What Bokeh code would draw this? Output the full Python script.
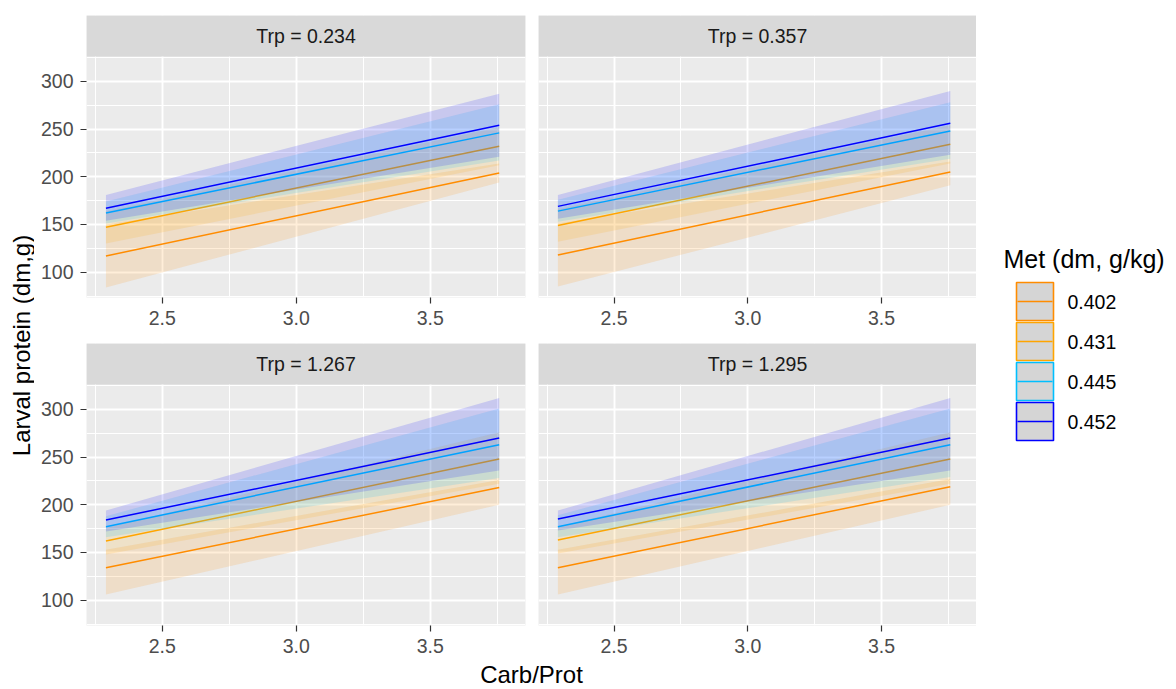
import numpy as np
from bokeh.plotting import figure
from bokeh.models import (FixedTicker, LinearAxis, Grid, BoxAnnotation, Label,
                          PrintfTickFormatter, Range1d)
from bokeh.layouts import row, column
from bokeh.embed import file_html
from bokeh.resources import INLINE
from bokeh.core.properties import value

# ---- data -----------------------------------------------------------------
trp_levels = ["0.234", "0.357", "1.267", "1.295"]
met_levels = ["0.402", "0.431", "0.445", "0.452"]
met_colors = ["#FF8C00", "#FFA500", "#00BFFF", "#0000FF"]

# Carb/Prot at the two ends of each fitted line
carb_prot = [2.29, 3.757]

# fitted larval protein (dm, g) per Met level: [at low Carb/Prot, at high Carb/Prot]
fit_trp_0234 = [[117, 204], [147, 232], [162, 246], [167, 254]]
lo_trp_0234 = [[84, 194], [130, 212], [151, 217], [154, 221]]
hi_trp_0234 = [[150, 214], [164, 252], [174, 276], [181, 287]]

fit_trp_0357 = [[118, 205], [149, 234], [164, 248], [169, 256]]
lo_trp_0357 = [[85, 191], [132, 214], [153, 219], [156, 223]]
hi_trp_0357 = [[151, 216], [166, 254], [176, 278], [181, 290]]

fit_trp_1267 = [[134, 218], [162, 248], [177, 263], [184, 270]]
lo_trp_1267 = [[106, 200], [148, 222], [166, 228], [172, 236]]
hi_trp_1267 = [[153, 226], [176, 276], [188, 301], [194, 312]]

fit_trp_1295 = [[134, 219], [163, 248], [177, 263], [185, 270]]
lo_trp_1295 = [[106, 200], [149, 222], [166, 229], [173, 236]]
hi_trp_1295 = [[153, 227], [177, 276], [189, 301], [194, 312]]

x_ticks = [2.5, 3.0, 3.5]
x_minor = [2.25, 2.75, 3.25, 3.75]
y_ticks = [100, 150, 200, 250, 300]
y_minor = [75, 125, 175, 225, 275, 325]

x_title = "Carb/Prot"
y_title = "Larval protein (dm,g)"
legend_title = "Met (dm, g/kg)"

# ---- styling ----------------------------------------------------------------
FONT = "Liberation Sans"
SMALL = "19.5px"
BIG = "24px"
X0, X1 = 2.2175, 3.855          # panel x limits
Y0, Y1 = 73.5, 326.0            # panel y limits
STRIP_UNITS = 43.0              # strip height expressed in y units
PANEL_BG = "#EBEBEB"
STRIP_BG = "#D9D9D9"
FRAME_H = 282
ALPHA = 0.15
YLAB_W = 34


def make_panel(trp, fit, lo, hi, left_col, top_row):
    p = figure(frame_width=439 if left_col else 438, frame_height=FRAME_H,
               x_range=Range1d(X0, X1), y_range=Range1d(Y0, Y1 + STRIP_UNITS),
               x_axis_location=None, y_axis_location=None,
               toolbar_location=None, output_backend="svg",
               min_border_left=(86 - YLAB_W) if left_col else 7,
               min_border_right=6 if left_col else 0,
               min_border_top=15 if top_row else 0,
               min_border_bottom=46 if top_row else 32)
    p.title.visible = False
    p.outline_line_color = None
    p.background_fill_color = PANEL_BG
    p.border_fill_color = "white"
    p.center = [r for r in p.center if not isinstance(r, Grid)]

    p.add_layout(Grid(dimension=0, ticker=FixedTicker(ticks=x_ticks, minor_ticks=x_minor),
                      grid_line_color="white", grid_line_width=1.9,
                      minor_grid_line_color="white", minor_grid_line_width=1.0))
    p.add_layout(Grid(dimension=1, ticker=FixedTicker(ticks=y_ticks, minor_ticks=y_minor),
                      grid_line_color="white", grid_line_width=1.9,
                      minor_grid_line_color="white", minor_grid_line_width=1.0))

    xa = LinearAxis(ticker=FixedTicker(ticks=x_ticks), formatter=PrintfTickFormatter(format="%.1f"))
    axes = [xa]
    p.add_layout(xa, "below")
    if left_col:
        ya = LinearAxis(ticker=FixedTicker(ticks=y_ticks), formatter=PrintfTickFormatter(format="%d"))
        p.add_layout(ya, "left")
        axes.append(ya)
    for a in axes:
        a.axis_line_color = None
        a.major_tick_line_color = "#333333"
        a.major_tick_line_width = 1.2
        a.major_tick_in = 0
        a.major_tick_out = 6
        a.minor_tick_line_color = None
        a.major_label_text_color = "#4D4D4D"
        a.major_label_text_font = FONT
        a.major_label_text_font_size = SMALL
    xa.major_label_standoff = 7
    if left_col:
        axes[1].major_label_standoff = 7

    for i, col in enumerate(met_colors):
        p.varea(x=carb_prot, y1=lo[i], y2=hi[i], fill_color=col, fill_alpha=ALPHA)
        p.line(x=carb_prot, y=fit[i], line_color=col, line_width=1.5)

    p.add_layout(BoxAnnotation(bottom=Y1, fill_color=STRIP_BG, fill_alpha=1.0, line_color=None))
    p.add_layout(Label(x=(X0 + X1) / 2, y=Y1 + STRIP_UNITS / 2, text=f"Trp = {trp}",
                       text_align="center", text_baseline="middle", text_font=FONT,
                       text_font_size=SMALL, text_color="#1A1A1A"))
    return p


def blank(width, height, xr, yr):
    f = figure(width=width, height=height, x_range=Range1d(*xr), y_range=Range1d(*yr),
               x_axis_location=None, y_axis_location=None, toolbar_location=None,
               output_backend="svg", min_border=0)
    f.title.visible = False
    f.outline_line_color = None
    f.grid.visible = False
    f.background_fill_color = "white"
    f.border_fill_color = "white"
    return f


p1 = make_panel(trp_levels[0], fit_trp_0234, lo_trp_0234, hi_trp_0234, True, True)
p2 = make_panel(trp_levels[1], fit_trp_0357, lo_trp_0357, hi_trp_0357, False, True)
p3 = make_panel(trp_levels[2], fit_trp_1267, lo_trp_1267, hi_trp_1267, True, False)
p4 = make_panel(trp_levels[3], fit_trp_1295, lo_trp_1295, hi_trp_1295, False, False)

# shared axis titles
ylab = blank(YLAB_W, 689, (0, YLAB_W), (0, 689))
ylab.add_layout(Label(x=21, y=344, text=y_title, angle=np.pi / 2, text_align="center",
                      text_baseline="middle", text_font=FONT, text_font_size=BIG,
                      text_color="black"))
main_w = 976 - YLAB_W
xlab = blank(main_w, 32, (0, main_w), (0, 32))
xlab.add_layout(Label(x=531 - YLAB_W, y=15, text=x_title, text_align="center",
                      text_baseline="middle", text_font=FONT, text_font_size=BIG,
                      text_color="black"))

# legend
leg = blank(200, 689, (0, 200), (689, 0))
idx = np.arange(len(met_levels))
key_top = 282 + 40 * idx
key_bot = key_top + 38
key_mid = (key_top + key_bot) / 2
leg.quad(left=40, right=77, top=key_top, bottom=key_bot, fill_color="#D5D5D5",
         line_color=met_colors, line_width=1.6)
leg.segment(x0=41, x1=76, y0=key_mid, y1=key_mid, line_color=met_colors, line_width=1.4)
leg.text(x=91, y=key_mid, text=met_levels, text_font=value(FONT), text_font_size=value(SMALL),
         text_baseline="middle", text_align="left", text_color="black")
leg.add_layout(Label(x=27, y=258, text=legend_title, text_align="left", text_baseline="middle",
                     text_font=FONT, text_font_size="25px", text_color="black"))

layout = row(ylab, column(row(p1, p2), row(p3, p4), xlab), leg)

open("out.html", "w").write(file_html(layout, INLINE))
